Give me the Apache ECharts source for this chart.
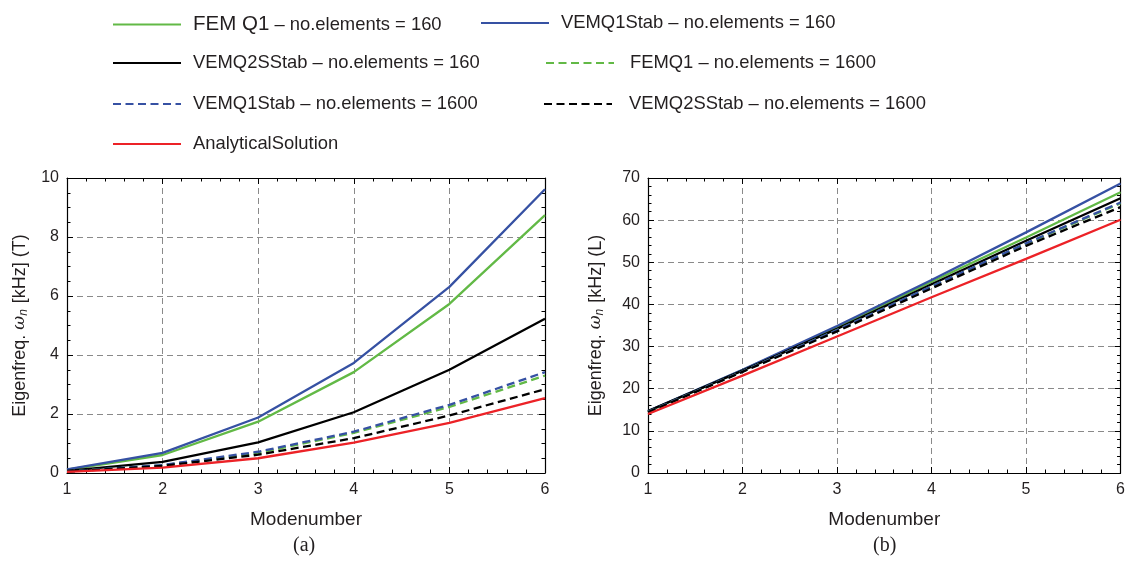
<!DOCTYPE html>
<html>
<head>
<meta charset="utf-8">
<title>Eigenfrequencies</title>
<script src="https://cdn.jsdelivr.net/npm/echarts@6/dist/echarts.min.js"></script>
<style>
  html, body { margin: 0; padding: 0; background: #fff; }
  #main { width: 1128px; height: 563px; }
</style>
</head>
<body>
<div id="main"></div>
<script>
// modenumbers (x axis)
var modes = [1, 2, 3, 4, 5, 6];

// series names, same for both panels
var names = [
  'FEM Q1 – no.elements = 160',
  'VEMQ1Stab – no.elements = 160',
  'VEMQ2SStab – no.elements = 160',
  'FEMQ1 – no.elements = 1600',
  'VEMQ1Stab – no.elements = 1600',
  'VEMQ2SStab – no.elements = 1600',
  'AnalyticalSolution'
];

// panel (a): eigenfrequency [kHz] (T)
var femQ1_160_T      = [0.11, 0.61, 1.74, 3.42, 5.73, 8.74];
var vemQ1_160_T      = [0.12, 0.68, 1.88, 3.73, 6.31, 9.62];
var vemQ2S_160_T     = [0.07, 0.38, 1.04, 2.06, 3.50, 5.23];
var femQ1_1600_T     = [0.05, 0.26, 0.68, 1.36, 2.24, 3.30];
var vemQ1_1600_T     = [0.05, 0.27, 0.72, 1.40, 2.31, 3.42];
var vemQ2S_1600_T    = [0.05, 0.24, 0.62, 1.18, 1.95, 2.84];
var analytical_T     = [0.04, 0.18, 0.50, 1.03, 1.70, 2.54];

// panel (b): eigenfrequency [kHz] (L)
var femQ1_160_L      = [14.6, 24.4, 34.6, 45.4, 55.9, 66.6];
var vemQ1_160_L      = [14.7, 24.5, 34.9, 45.8, 57.1, 68.7];
var vemQ2S_160_L     = [14.7, 24.3, 34.2, 44.8, 55.1, 65.2];
var femQ1_1600_L     = [14.5, 24.1, 33.9, 44.3, 54.4, 64.0];
var vemQ1_1600_L     = [14.5, 24.1, 33.9, 44.3, 54.5, 64.2];
var vemQ2S_1600_L    = [14.4, 24.0, 33.6, 43.8, 53.9, 63.1];
var analytical_L     = [14.0, 23.1, 32.4, 41.7, 50.8, 60.1];

// tick labels
var xTicks = [1, 2, 3, 4, 5, 6];
var yTicksT = [0, 2, 4, 6, 8, 10];
var yTicksL = [0, 10, 20, 30, 40, 50, 60, 70];

var colors = ['#62b946', '#3651a3', '#000000', '#62b946', '#3651a3', '#000000', '#ec2227'];
var dashed = [false, false, false, true, true, true, false];

var FONT = 'Liberation Sans';
var TXT = '#231f20';

var myChart;

function pairs(vals) {
  var out = [];
  for (var i = 0; i < modes.length; i++) {
    out.push([modes[i], vals[i]]);
  }
  return out;
}

function makeSeries(valsList, xi, yi) {
  var s = [];
  for (var i = 0; i < names.length; i++) {
    s.push({
      name: names[i],
      type: 'line',
      xAxisIndex: xi,
      yAxisIndex: yi,
      data: pairs(valsList[i]),
      symbol: 'none',
      smooth: false,
      color: colors[i],
      lineStyle: { width: 2.3, color: colors[i], type: dashed[i] ? [8, 4.5] : 'solid' },
      z: 3
    });
  }
  return s;
}

// common axis look: black frame, inward ticks, dashed grey grid
function xAxisOf(grid, pos, main) {
  return {
    type: 'value', gridIndex: grid, position: pos,
    min: 1, max: 6, interval: 1,
    axisLine: { show: true, onZero: false, lineStyle: { color: '#000', width: 1.2 } },
    axisTick: { show: true, inside: true, length: 6, lineStyle: { color: '#000' } },
    minorTick: { show: true, splitNumber: 5, length: 3.5, lineStyle: { color: '#000' } },
    axisLabel: main ? {
      show: true, fontFamily: FONT, fontSize: 16, color: TXT, margin: 9,
      formatter: function (v) { return xTicks.indexOf(v) >= 0 ? String(v) : ''; }
    } : { show: false },
    splitLine: main ? { show: true, showMinLine: false, showMaxLine: false,
      lineStyle: { color: '#8a8a8a', type: [6, 4], width: 1 } } : { show: false },
    name: main ? 'Modenumber' : '',
    nameLocation: 'middle', nameGap: 37,
    nameTextStyle: { fontFamily: FONT, fontSize: 19, color: TXT }
  };
}

function yAxisOf(grid, pos, main, max, step, minorN, ticks, tag, gap) {
  return {
    type: 'value', gridIndex: grid, position: pos,
    min: 0, max: max, interval: step,
    axisLine: { show: true, onZero: false, lineStyle: { color: '#000', width: 1.2 } },
    axisTick: { show: true, inside: true, length: 6, lineStyle: { color: '#000' } },
    minorTick: { show: true, splitNumber: minorN, length: 3.5, lineStyle: { color: '#000' } },
    axisLabel: main ? {
      show: true, fontFamily: FONT, fontSize: 16, color: TXT, margin: 8,
      formatter: function (v) { return ticks.indexOf(v) >= 0 ? String(v) : ''; }
    } : { show: false },
    splitLine: main ? { show: true, showMinLine: false, showMaxLine: false,
      lineStyle: { color: '#8a8a8a', type: [6, 4], width: 1 } } : { show: false },
    name: main ? '{a|Eigenfreq. }{w|ω}{s|n}{a| [kHz] (' + tag + ')}' : '',
    nameLocation: 'middle', nameGap: gap,
    nameTextStyle: {
      fontFamily: FONT, fontSize: 18, color: TXT,
      rich: {
        a: { fontFamily: FONT, fontSize: 18, color: TXT },
        w: { fontFamily: 'DejaVu Serif', fontSize: 17, fontStyle: 'italic', color: TXT },
        s: { fontFamily: FONT, fontSize: 12, fontStyle: 'italic', color: TXT, verticalAlign: 'bottom', padding: [8, 1, 0, 0] }
      }
    }
  };
}

// one legend per entry, placed like the figure
var legendPos = [
  [112, 21, 12], [480, 21, 12],
  [112, 61, 12], [545, 61, 16],
  [112, 102, 12], [543, 102, 17],
  [112, 142, 12]
];

function makeLegends() {
  var out = [];
  for (var i = 0; i < names.length; i++) {
    out.push({
      data: [names[i]],
      left: legendPos[i][0] - 5,
      top: legendPos[i][1] - 12,
      itemWidth: 68,
      itemHeight: 14,
      selectedMode: false,
      itemStyle: { opacity: 0 },
      textStyle: {
        fontFamily: FONT, fontSize: 18.4, color: TXT,
        padding: [0, 0, 0, legendPos[i][2] - 5],
        rich: { big: { fontFamily: FONT, fontSize: 20.5, color: TXT } }
      },
      formatter: function (n) {
        if (n.indexOf('FEM Q1') === 0) return '{big|FEM Q1}' + n.substring(6);
        return n;
      }
    });
  }
  return out;
}

function drawChart() {
  myChart = echarts.init(document.getElementById('main'), null, { renderer: 'canvas' });

  var valsT = [femQ1_160_T, vemQ1_160_T, vemQ2S_160_T, femQ1_1600_T, vemQ1_1600_T, vemQ2S_1600_T, analytical_T];
  var valsL = [femQ1_160_L, vemQ1_160_L, vemQ2S_160_L, femQ1_1600_L, vemQ1_1600_L, vemQ2S_1600_L, analytical_L];

  var option = {
    animation: false,
    backgroundColor: '#fff',
    legend: makeLegends(),
    grid: [
      { left: 67, right: 583, top: 178, bottom: 90 },
      { left: 648, right: 4, top: 178, bottom: 90 }
    ],
    xAxis: [
      xAxisOf(0, 'bottom', true), xAxisOf(0, 'top', false),
      xAxisOf(1, 'bottom', true), xAxisOf(1, 'top', false)
    ],
    yAxis: [
      yAxisOf(0, 'left', true, 10, 2, 4, yTicksT, 'T', 37),
      yAxisOf(0, 'right', false, 10, 2, 4, yTicksT, 'T', 37),
      yAxisOf(1, 'left', true, 70, 10, 5, yTicksL, 'L', 42),
      yAxisOf(1, 'right', false, 70, 10, 5, yTicksL, 'L', 42)
    ],
    graphic: [
      { type: 'text', left: 293, top: 536, style: { text: '(a)', font: '20px "Liberation Serif"', fill: TXT } },
      { type: 'text', left: 873, top: 536, style: { text: '(b)', font: '20px "Liberation Serif"', fill: TXT } }
    ],
    series: makeSeries(valsT, 0, 0).concat(makeSeries(valsL, 2, 2))
  };
  myChart.setOption(option);
}

drawChart();

window.addEventListener('resize', function () {
  myChart.resize();
});
</script>
</body>
</html>
